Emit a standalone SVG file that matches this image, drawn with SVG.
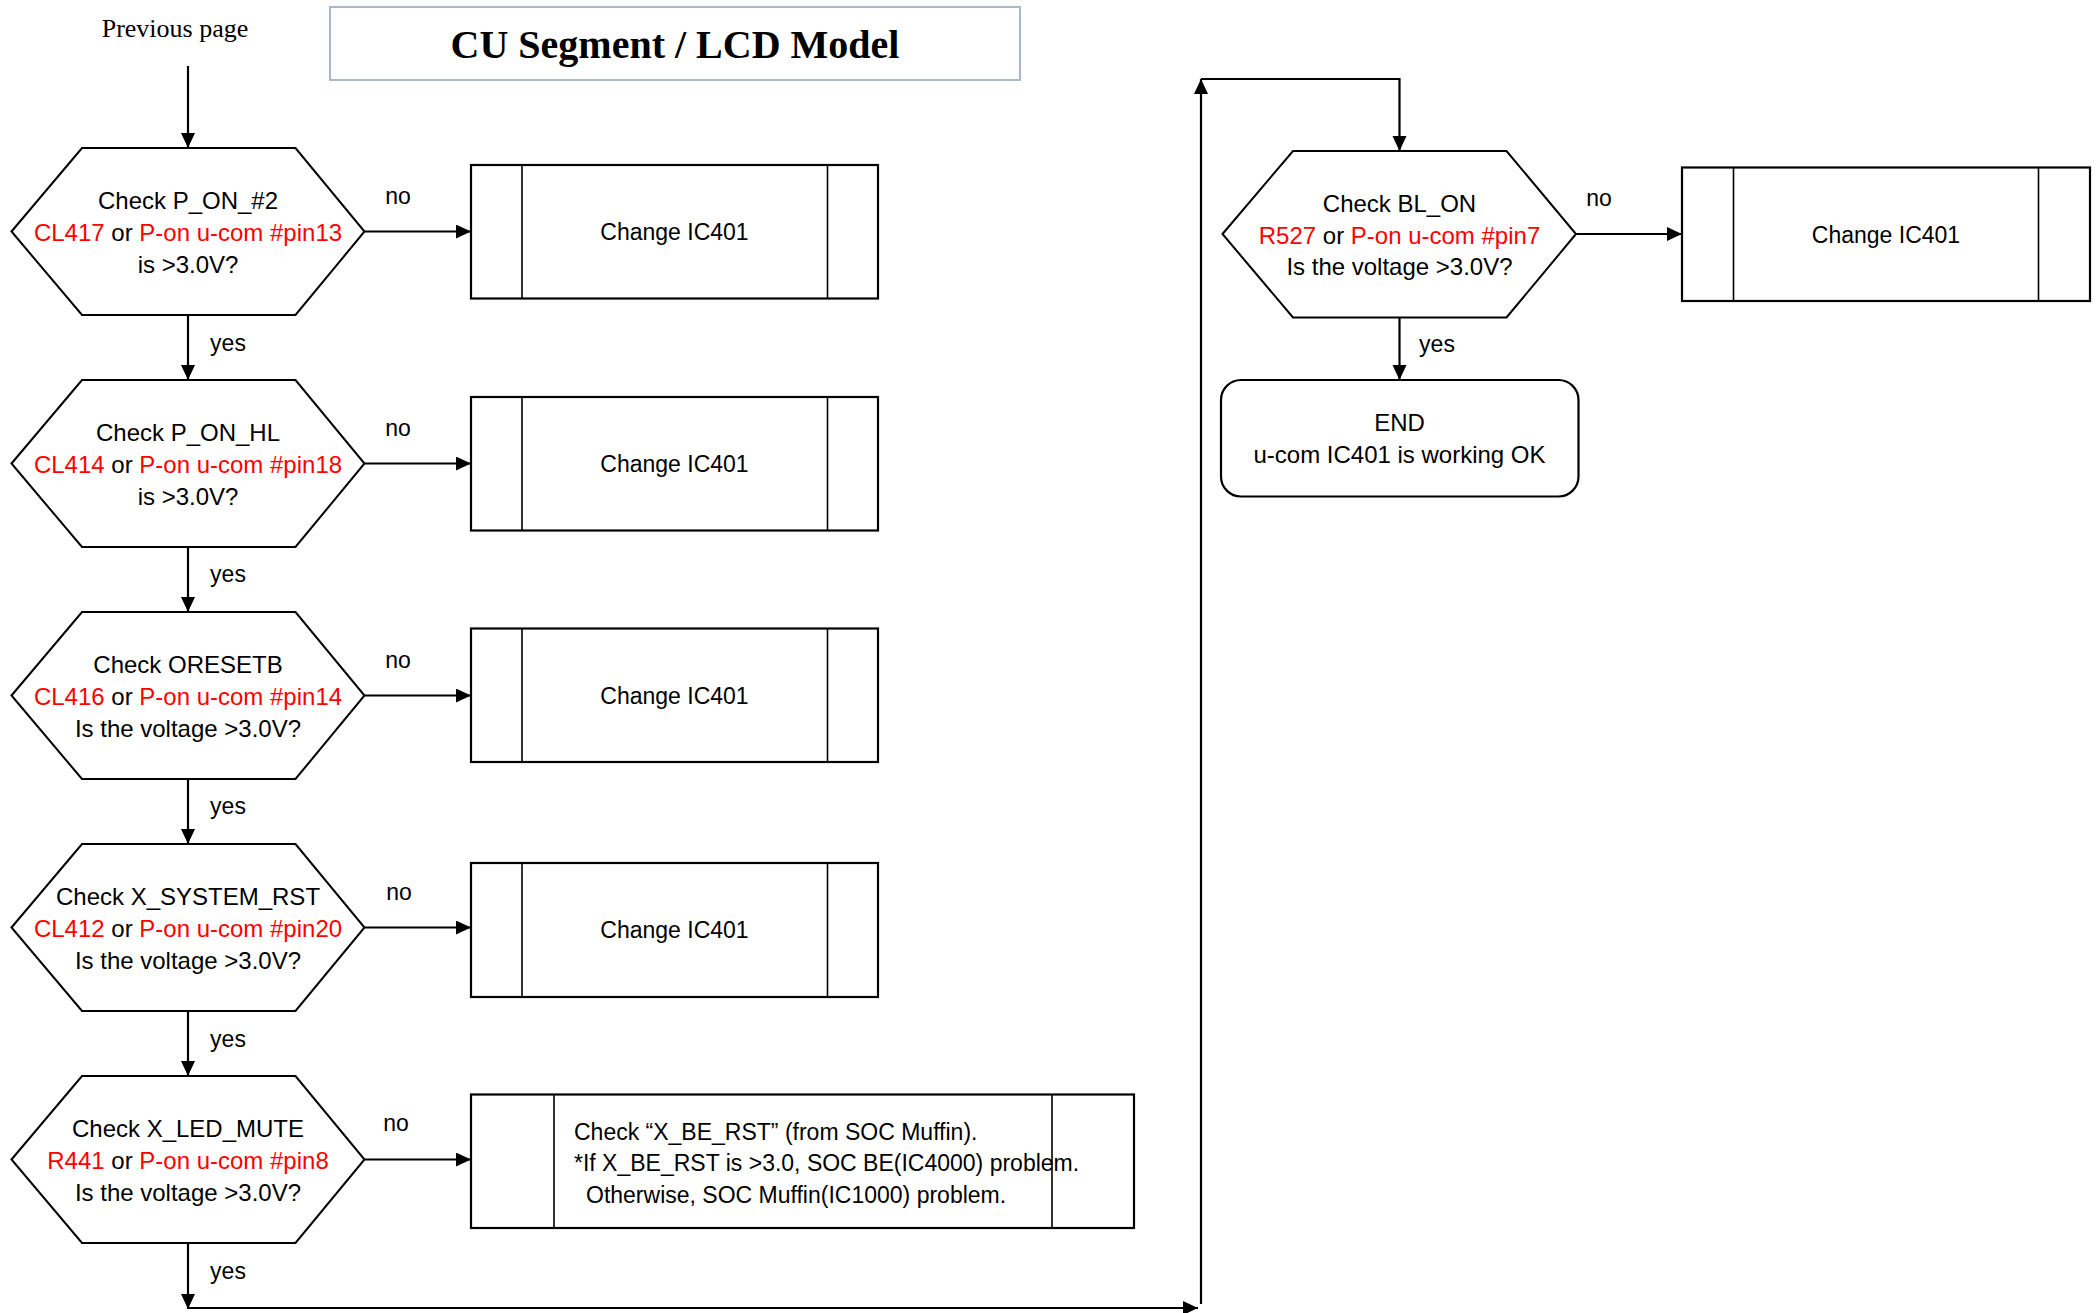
<svg xmlns="http://www.w3.org/2000/svg" width="2098" height="1313" viewBox="0 0 2098 1313">
<style>
.hex{fill:#fff;stroke:#000;stroke-width:2}
.box{fill:#fff;stroke:#000;stroke-width:2.2}
.inner{stroke:#000;stroke-width:1.6}
.t{font-family:"Liberation Sans",Arial,sans-serif;font-size:24px;fill:#000;text-anchor:middle}
.tb{font-family:"Liberation Sans",Arial,sans-serif;font-size:23px;fill:#000}
.lbl{font-family:"Liberation Sans",Arial,sans-serif;font-size:23px;fill:#000;text-anchor:middle}
.r{fill:#ff0000}
.c{fill:none;stroke:#000;stroke-width:2.2}
</style>
<defs>
<marker id="ah" markerUnits="userSpaceOnUse" markerWidth="16" markerHeight="15" refX="15" refY="7" orient="auto">
<path d="M0,0 L15,7 L0,14 z" fill="#000"/>
</marker>
</defs>
<rect width="2098" height="1313" fill="#fff"/>

<g id="title">
<rect x="330" y="7" width="690" height="73" fill="#fff" stroke="#a9b8cb" stroke-width="2"/>
<text x="675" y="58" font-family="Liberation Serif,'Times New Roman',serif" font-size="40" font-weight="bold" text-anchor="middle">CU Segment / LCD Model</text>
</g>
<g id="prev">
<text x="175" y="37" font-family="Liberation Serif,'Times New Roman',serif" font-size="26" text-anchor="middle">Previous page</text>
</g>

<g id="connectors">
<line class="c" x1="188" y1="66" x2="188" y2="148" marker-end="url(#ah)"/>
<line class="c" x1="188" y1="315" x2="188" y2="380" marker-end="url(#ah)"/>
<line class="c" x1="188" y1="547" x2="188" y2="612" marker-end="url(#ah)"/>
<line class="c" x1="188" y1="779" x2="188" y2="844" marker-end="url(#ah)"/>
<line class="c" x1="188" y1="1011" x2="188" y2="1076" marker-end="url(#ah)"/>
<line class="c" x1="188" y1="1243" x2="188" y2="1309" marker-end="url(#ah)"/>
<line class="c" x1="188" y1="1308" x2="1198" y2="1308" marker-end="url(#ah)"/>
<line class="c" x1="1201" y1="1304" x2="1201" y2="79" marker-end="url(#ah)"/>
<polyline class="c" points="1201,79 1399.5,79 1399.5,151" marker-end="url(#ah)"/>
<line class="c" x1="364.5" y1="231.5" x2="471" y2="231.5" marker-end="url(#ah)"/>
<line class="c" x1="364.5" y1="463.5" x2="471" y2="463.5" marker-end="url(#ah)"/>
<line class="c" x1="364.5" y1="695.5" x2="471" y2="695.5" marker-end="url(#ah)"/>
<line class="c" x1="364.5" y1="927.5" x2="471" y2="927.5" marker-end="url(#ah)"/>
<line class="c" x1="364.5" y1="1159.5" x2="471" y2="1159.5" marker-end="url(#ah)"/>
<line class="c" x1="1576" y1="234" x2="1682" y2="234" marker-end="url(#ah)"/>
<line class="c" x1="1399.5" y1="318" x2="1399.5" y2="380" marker-end="url(#ah)"/>
<text class="lbl" x="398" y="204">no</text>
<text class="lbl" x="398" y="436">no</text>
<text class="lbl" x="398" y="668">no</text>
<text class="lbl" x="399" y="900">no</text>
<text class="lbl" x="396" y="1131">no</text>
<text class="lbl" x="1599" y="206">no</text>
<text class="lbl" x="228" y="351">yes</text>
<text class="lbl" x="228" y="582">yes</text>
<text class="lbl" x="228" y="814">yes</text>
<text class="lbl" x="228" y="1047">yes</text>
<text class="lbl" x="228" y="1279">yes</text>
<text class="lbl" x="1437" y="352">yes</text>
</g>

<g id="d1">
<polygon class="hex" points="11.5,231.5 82,148 295.5,148 364.5,231.5 295.5,315 82,315"/>
<text class="t" x="188" y="209">Check P_ON_#2</text>
<text class="t" x="188" y="241"><tspan class="r">CL417</tspan> or <tspan class="r">P-on u-com #pin13</tspan></text>
<text class="t" x="188" y="272.5">is &gt;3.0V?</text>
</g>
<g id="d2">
<polygon class="hex" points="11.5,463.5 82,380 295.5,380 364.5,463.5 295.5,547 82,547"/>
<text class="t" x="188" y="441">Check P_ON_HL</text>
<text class="t" x="188" y="473"><tspan class="r">CL414</tspan> or <tspan class="r">P-on u-com #pin18</tspan></text>
<text class="t" x="188" y="504.5">is &gt;3.0V?</text>
</g>
<g id="d3">
<polygon class="hex" points="11.5,695.5 82,612 295.5,612 364.5,695.5 295.5,779 82,779"/>
<text class="t" x="188" y="673">Check ORESETB</text>
<text class="t" x="188" y="705"><tspan class="r">CL416</tspan> or <tspan class="r">P-on u-com #pin14</tspan></text>
<text class="t" x="188" y="736.5">Is the voltage &gt;3.0V?</text>
</g>
<g id="d4">
<polygon class="hex" points="11.5,927.5 82,844 295.5,844 364.5,927.5 295.5,1011 82,1011"/>
<text class="t" x="188" y="905">Check X_SYSTEM_RST</text>
<text class="t" x="188" y="937"><tspan class="r">CL412</tspan> or <tspan class="r">P-on u-com #pin20</tspan></text>
<text class="t" x="188" y="968.5">Is the voltage &gt;3.0V?</text>
</g>
<g id="d5">
<polygon class="hex" points="11.5,1159.5 82,1076 295.5,1076 364.5,1159.5 295.5,1243 82,1243"/>
<text class="t" x="188" y="1137">Check X_LED_MUTE</text>
<text class="t" x="188" y="1169"><tspan class="r">R441</tspan> or <tspan class="r">P-on u-com #pin8</tspan></text>
<text class="t" x="188" y="1200.5">Is the voltage &gt;3.0V?</text>
</g>
<g id="d6">
<polygon class="hex" points="1222.5,234 1293,151 1506.5,151 1576,234 1506.5,317.5 1293,317.5"/>
<text class="t" x="1399.5" y="211.5">Check BL_ON</text>
<text class="t" x="1399.5" y="243.5"><tspan class="r">R527</tspan> or <tspan class="r">P-on u-com #pin7</tspan></text>
<text class="t" x="1399.5" y="275">Is the voltage &gt;3.0V?</text>
</g>

<g id="b1">
<rect class="box" x="471" y="165" width="407" height="133.5"/>
<line class="inner" x1="522" y1="165" x2="522" y2="298.5"/>
<line class="inner" x1="827.5" y1="165" x2="827.5" y2="298.5"/>
<text class="tb" x="674.5" y="240" text-anchor="middle">Change IC401</text>
</g>
<g id="b2">
<rect class="box" x="471" y="397" width="407" height="133.5"/>
<line class="inner" x1="522" y1="397" x2="522" y2="530.5"/>
<line class="inner" x1="827.5" y1="397" x2="827.5" y2="530.5"/>
<text class="tb" x="674.5" y="472" text-anchor="middle">Change IC401</text>
</g>
<g id="b3">
<rect class="box" x="471" y="628.5" width="407" height="133.5"/>
<line class="inner" x1="522" y1="628.5" x2="522" y2="762"/>
<line class="inner" x1="827.5" y1="628.5" x2="827.5" y2="762"/>
<text class="tb" x="674.5" y="704" text-anchor="middle">Change IC401</text>
</g>
<g id="b4">
<rect class="box" x="471" y="863" width="407" height="134"/>
<line class="inner" x1="522" y1="863" x2="522" y2="997"/>
<line class="inner" x1="827.5" y1="863" x2="827.5" y2="997"/>
<text class="tb" x="674.5" y="938" text-anchor="middle">Change IC401</text>
</g>
<g id="b5">
<rect class="box" x="471" y="1094.5" width="663" height="133.5"/>
<line class="inner" x1="554" y1="1094.5" x2="554" y2="1228"/>
<line class="inner" x1="1052" y1="1094.5" x2="1052" y2="1228"/>
<text class="tb" x="574" y="1139.5">Check “X_BE_RST” (from SOC Muffin).</text>
<text class="tb" x="574" y="1171">*If X_BE_RST is &gt;3.0, SOC BE(IC4000) problem.</text>
<text class="tb" x="586" y="1202.5">Otherwise, SOC Muffin(IC1000) problem.</text>
</g>
<g id="b6">
<rect class="box" x="1682" y="167.5" width="408" height="133.5"/>
<line class="inner" x1="1733.5" y1="167.5" x2="1733.5" y2="301"/>
<line class="inner" x1="2038.5" y1="167.5" x2="2038.5" y2="301"/>
<text class="tb" x="1886" y="243" text-anchor="middle">Change IC401</text>
</g>
<g id="end">
<rect x="1221" y="380" width="357.5" height="116.5" rx="20" ry="20" fill="#fff" stroke="#000" stroke-width="2.2"/>
<text class="t" x="1399.5" y="430.5">END</text>
<text class="t" x="1399.5" y="462.5">u-com IC401 is working OK</text>
</g>
</svg>
